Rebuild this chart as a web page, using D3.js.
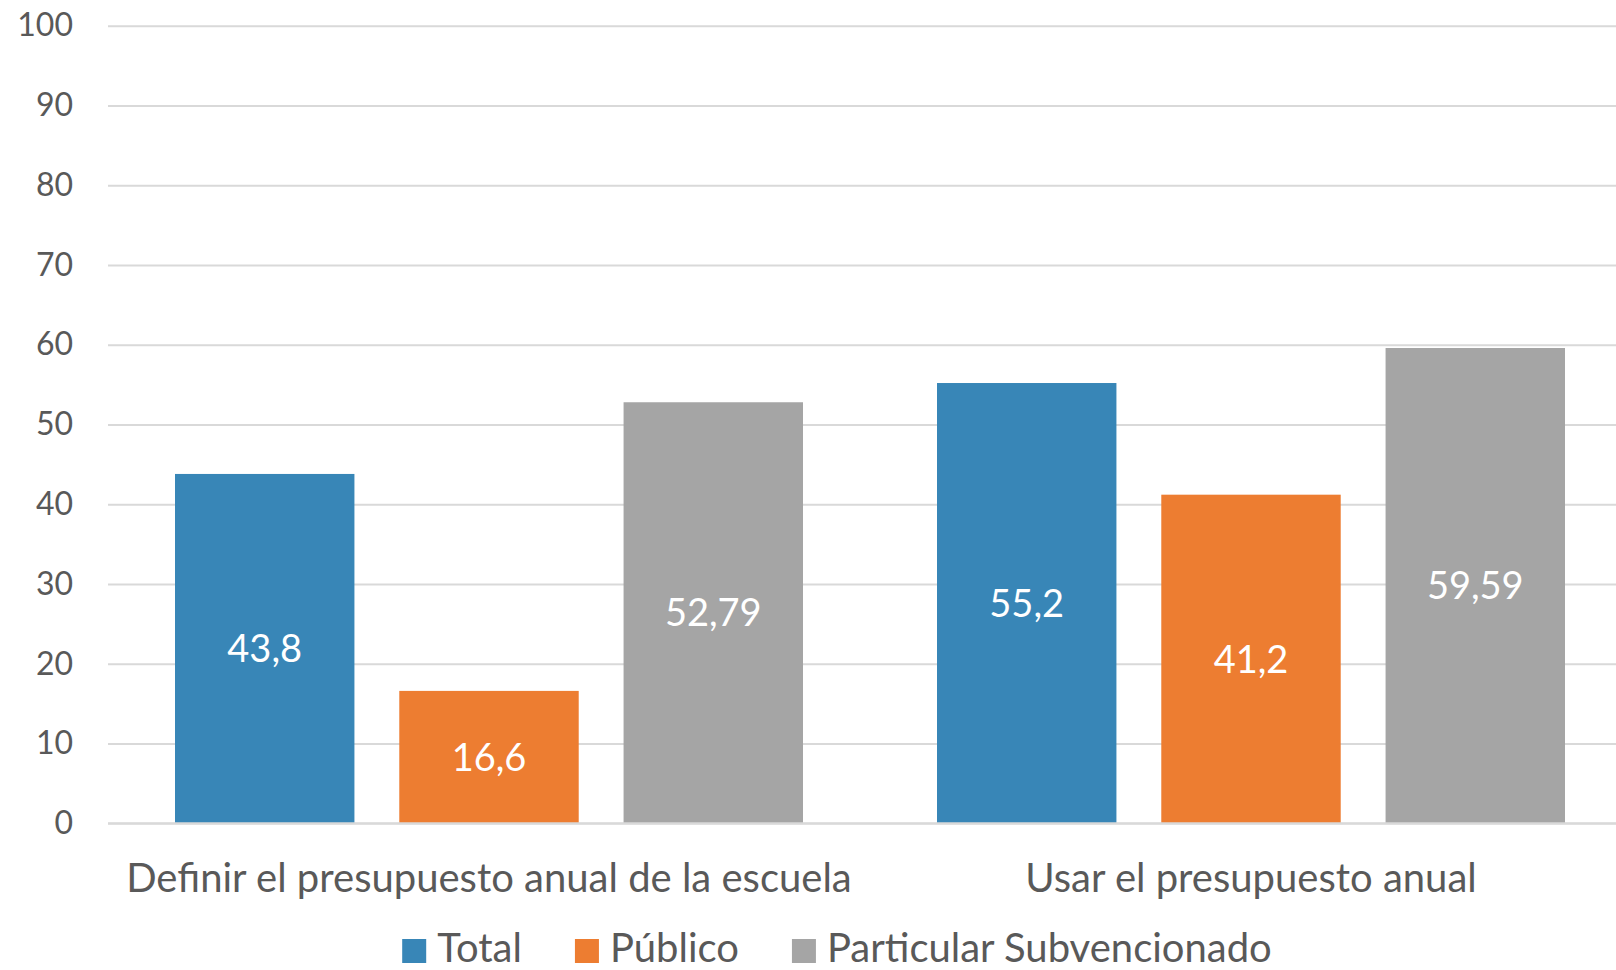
<!DOCTYPE html>
<html>
<head>
<meta charset="utf-8">
<script src="https://cdn.jsdelivr.net/npm/d3@7"></script>
<style>
  html, body { margin: 0; padding: 0; background: #fff; overflow: hidden; }
  svg { display: block; }
  text { font-family: Lato, "Open Sans", sans-serif; }
</style>
</head>
<body>
<svg id="chart" width="1616" height="970"></svg>
<script>
// ---- data ----
const categories = ["Definir el presupuesto anual de la escuela", "Usar el presupuesto anual"];
const seriesNames = ["Total", "Público", "Particular Subvencionado"];
const totalValues = [43.8, 55.2];
const publicoValues = [16.6, 41.2];
const particularValues = [52.79, 59.59];
const valueLabels = [["43,8", "55,2"], ["16,6", "41,2"], ["52,79", "59,59"]];
const yTicks = [0, 10, 20, 30, 40, 50, 60, 70, 80, 90, 100];
const colors = ["#3886B7", "#ED7D31", "#A5A5A5"];

const seriesValues = [totalValues, publicoValues, particularValues];

const svg = d3.select("#chart");

const plotLeft = 108, plotRight = 1632, plotTop = 25.7, plotBottom = 823.3;

const x0 = d3.scaleBand().domain(categories).range([plotLeft, plotRight]).padding(0);
const groupPad = 67;
const x1 = d3.scaleBand().domain(seriesNames)
  .range([groupPad, x0.bandwidth() - groupPad])
  .paddingInner(0.2).paddingOuter(0);
const y = d3.scaleLinear().domain([0, 100]).range([plotBottom, plotTop]);

// gridlines + y labels
const yAxis = d3.axisLeft(y).tickValues(yTicks).tickSize(-(plotRight - plotLeft)).tickPadding(35);
const gy = svg.append("g").attr("transform", `translate(${plotLeft},0)`).call(yAxis);
gy.select(".domain").remove();
gy.selectAll(".tick line").attr("stroke", "#D9D9D9").attr("stroke-width", 2);
gy.selectAll(".tick text")
  .attr("fill", "#595959")
  .style("font-size", "32px")
  .style("font-family", "Lato, 'Open Sans', sans-serif");

// bars
const groups = svg.append("g").selectAll("g")
  .data(seriesNames)
  .join("g")
  .attr("fill", (d, i) => colors[i]);

groups.selectAll("rect")
  .data((s, si) => categories.map((c, ci) => ({ c, s, v: seriesValues[si][ci] })))
  .join("rect")
  .attr("x", d => x0(d.c) + x1(d.s))
  .attr("y", d => y(d.v))
  .attr("width", x1.bandwidth())
  .attr("height", d => y(0) - y(d.v));

// value labels
svg.append("g").selectAll("text")
  .data(seriesNames.flatMap((s, si) => categories.map((c, ci) => ({ c, s, v: seriesValues[si][ci], label: valueLabels[si][ci] }))))
  .join("text")
  .attr("x", d => x0(d.c) + x1(d.s) + x1.bandwidth() / 2)
  .attr("y", d => (y(d.v) + y(0)) / 2)
  .attr("dy", "0.36em")
  .attr("text-anchor", "middle")
  .attr("fill", "#ffffff")
  .style("font-size", "38px")
  .text(d => d.label);

// zero line over bars
svg.append("line")
  .attr("x1", plotLeft).attr("x2", plotRight)
  .attr("y1", y(0)).attr("y2", y(0))
  .attr("stroke", "#D9D9D9").attr("stroke-width", 2);

// category labels
const xAxis = d3.axisBottom(x0).tickSize(0).tickPadding(0);
const gx = svg.append("g").attr("transform", `translate(0,${plotBottom})`).call(xAxis);
gx.select(".domain").remove();
gx.selectAll(".tick text")
  .attr("y", 69)
  .attr("dy", 0)
  .attr("fill", "#595959")
  .style("font-size", "40px")
  .style("font-family", "Lato, 'Open Sans', sans-serif");

// legend
const legend = svg.append("g");
const sq = 24, textGap = 11, itemGap = 53;
const items = legend.selectAll("g").data(seriesNames).join("g");
items.append("rect").attr("width", sq).attr("height", sq).attr("y", -sq + 1)
  .attr("fill", (d, i) => colors[i]);
items.append("text").attr("x", sq + textGap).attr("y", 0)
  .attr("fill", "#595959").style("font-size", "40px").text(d => d);
const widths = [];
items.each(function () {
  const tw = d3.select(this).select("text").node().getComputedTextLength();
  widths.push(sq + textGap + tw);
});
const totalW = d3.sum(widths) + itemGap * (widths.length - 1);
const legendCenter = 837;
let cx = legendCenter - totalW / 2;
items.attr("transform", (d, i) => {
  const t = `translate(${cx},962)`;
  cx += widths[i] + itemGap;
  return t;
});
</script>
</body>
</html>
